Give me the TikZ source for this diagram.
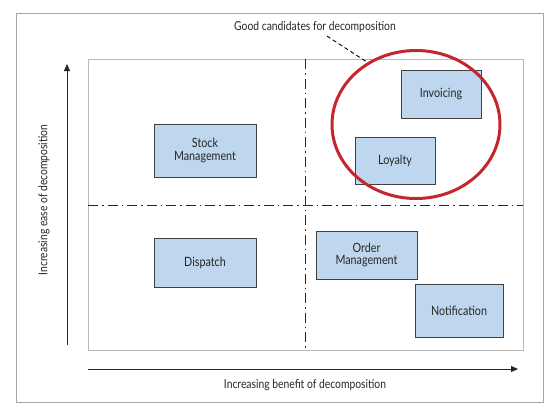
\documentclass[tikz,border=0pt]{standalone}
\usepackage{fontspec}
\setmainfont[FakeStretch=0.84]{Lato}
\usetikzlibrary{shapes.geometric,arrows.meta}
\definecolor{boxblue}{RGB}{190,215,238}
\definecolor{ringred}{RGB}{196,38,45}

\begin{document}
\begin{tikzpicture}[x=1pt,y=-1pt,
	box/.style 2 args={draw=black!75, fill=boxblue, line width=0.9pt,
	minimum width=#1, minimum height=#2, align=center, inner sep=1pt,
	text=black!85, font=\fontsize{12.8}{12.5}\selectfont},
	dashdot/.style={line width=0.9pt, black!85,
	dash pattern=on 10pt off 4pt on 1.5pt off 4pt}]
\useasboundingbox (0,0) rectangle (557,408);
% Rahmen
\draw [color=gray!70, line width=0.9pt] (16,13) rectangle (543,402);
\draw [color=gray!55, line width=0.9pt] (88,59) rectangle (523,350);
% Quadranten
\draw [dashdot] (305,59) -- (305,350);
\draw [dashdot] (88,205) -- (523,205);
% Achsen
\draw [-{Triangle[length=7pt,width=6pt]}, line width=0.9pt, black!85] (67,345) -- (67,64);
\draw [-{Triangle[length=7pt,width=6pt]}, line width=0.9pt, black!85] (88,369) -- (518,369);
\node [rotate=90, text=black!85, font=\fontsize{12.3}{12}\selectfont, name=yl] at (44,200) {Increasing ease of decomposition};
\node [text=black!85, font=\fontsize{12.3}{12}\selectfont, name=xl] at (305,385) {Increasing benefit of decomposition};
% Dienste
\node [box={102}{53}, name=stock] at (205,150.5) {Stock\\Management};
\node [box={102}{49}, name=dispatch] at (205,262.5) {Dispatch};
\node [box={80}{48}, name=invoicing] at (441,94) {Invoicing};
\node [box={80}{47}, name=loyalty] at (395,160.5) {Loyalty};
\node [box={101}{48}, name=order] at (366.5,255) {Order\\Management};
\node [box={88}{53}, name=notification] at (459,310.5) {Notification};
% Kandidaten
\node [draw=ringred, line width=3pt, ellipse, minimum width=168, minimum height=148,
	inner sep=0pt, name=cand] at (416,124.5) {};
\node [text=black!85, font=\fontsize{12.3}{12}\selectfont, name=good] at (315,27) {Good candidates for decomposition};
\draw [dash pattern=on 4pt off 3pt, line width=0.9pt] ([xshift=12pt]good.south) -- (cand.128);
\end{tikzpicture}
\end{document}
